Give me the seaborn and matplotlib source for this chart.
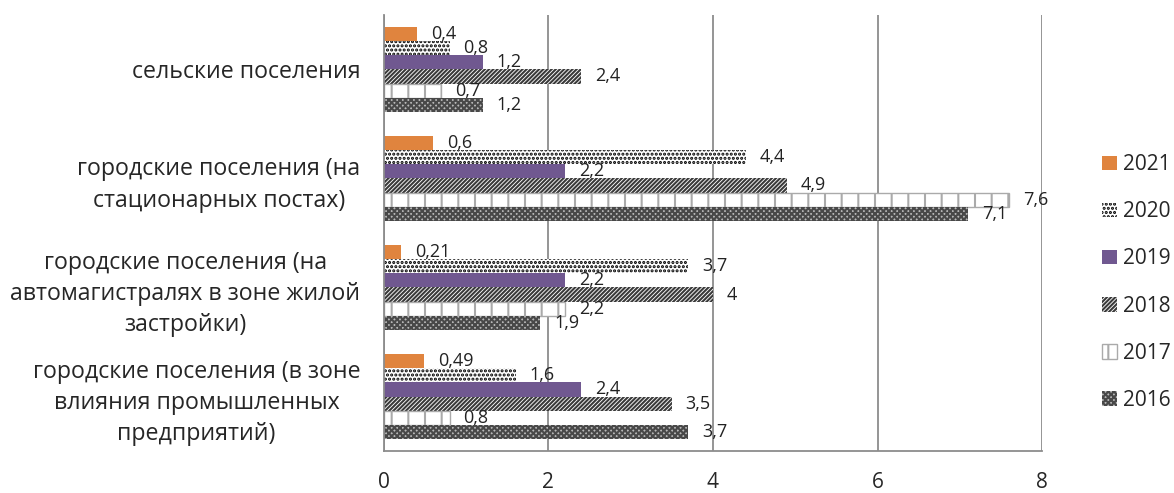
import matplotlib

matplotlib.use("Agg")
import matplotlib.pyplot as plt
import numpy as np
import pandas as pd
import seaborn as sns
from matplotlib.patches import Patch

# categories (top to bottom) and series
categories = [
    "сельские поселения",
    "городские поселения (на\nстационарных постах)",
    "городские поселения (на\nавтомагистралях в зоне жилой\nзастройки)",
    "городские поселения (в зоне\nвлияния промышленных\nпредприятий)",
]
years = ["2021", "2020", "2019", "2018", "2017", "2016"]

v2021 = [0.4, 0.6, 0.21, 0.49]
v2020 = [0.8, 4.4, 3.7, 1.6]
v2019 = [1.2, 2.2, 2.2, 2.4]
v2018 = [2.4, 4.9, 4.0, 3.5]
v2017 = [0.7, 7.6, 2.2, 0.8]
v2016 = [1.2, 7.1, 1.9, 3.7]

series = dict(zip(years, [v2021, v2020, v2019, v2018, v2017, v2016]))

rows = []
for year, vals in series.items():
    for cat, v in zip(categories, vals):
        rows.append({"cat": cat, "year": year, "value": v})
df = pd.DataFrame(rows)

# fill / hatch styles per series
styles = {
    "2021": dict(facecolor="#E0843E", edgecolor="#E0843E", hatch=None, lw=0),
    "2020": dict(facecolor="white", edgecolor="black", hatch="....", lw=0),
    "2019": dict(facecolor="#705890", edgecolor="#705890", hatch=None, lw=0),
    "2018": dict(facecolor="white", edgecolor="#3a3a3a", hatch="////////", lw=0),
    "2017": dict(facecolor="white", edgecolor="#aaaaaa", hatch="|", lw=1.0),
    "2016": dict(facecolor="#b8b8b8", edgecolor="#484848", hatch="xxxxxx", lw=0),
}

sns.set_style("white")
plt.rcParams["font.family"] = ["Open Sans", "DejaVu Sans"]
plt.rcParams["hatch.linewidth"] = 1.5

fig = plt.figure(figsize=(11.74, 4.93), dpi=100)
ax = fig.add_axes([0.327, 0.085, 0.8876 - 0.327, 0.885])

sns.barplot(
    data=df,
    x="value",
    y="cat",
    hue="year",
    hue_order=years,
    order=categories,
    orient="h",
    width=0.78,
    saturation=1,
    palette={y: styles[y]["facecolor"] for y in years},
    legend=False,
    ax=ax,
)

for year, cont in zip(years, ax.containers):
    st = styles[year]
    for bar in cont:
        bar.set_facecolor(st["facecolor"])
        bar.set_edgecolor(st["edgecolor"])
        bar.set_linewidth(st["lw"])
        if st["hatch"]:
            bar.set_hatch(st["hatch"])
    labels = [f"{v:g}".replace(".", ",") for v in cont.datavalues]
    ax.bar_label(cont, labels=labels, padding=10, fontsize=13, color="#222222")

ax.set_xlim(0, 8)
ax.set_ylim(3.5, -0.5)
ax.set_xticks([0, 2, 4, 6, 8])
ax.set_xlabel("")
ax.set_ylabel("")

ax.xaxis.grid(True, color="#8c8c8c", lw=1.3)
ax.yaxis.grid(False)
ax.set_axisbelow(True)
for s in ["top", "right"]:
    ax.spines[s].set_visible(False)
for s in ["left", "bottom"]:
    ax.spines[s].set_color("#8c8c8c")
    ax.spines[s].set_linewidth(1.3)

ax.set_yticks(range(len(categories)))
ax.set_yticklabels(categories, ma="center", fontsize=16.7, linespacing=1.4)
ax.set_yticks(np.arange(-0.5, len(categories)), minor=True)
ax.tick_params(axis="y", which="major", length=0, pad=17)
ax.tick_params(axis="y", which="minor", length=5, width=1.3, color="#8c8c8c")
ax.tick_params(axis="x", length=5, width=1.3, color="#8c8c8c", pad=10, labelsize=15)

handles = []
for year in years:
    st = styles[year]
    handles.append(
        Patch(
            facecolor=st["facecolor"],
            edgecolor=st["edgecolor"],
            hatch=st["hatch"],
            linewidth=st["lw"],
            label=year,
        )
    )
fig.legend(
    handles=handles,
    loc="center left",
    bbox_to_anchor=(1102 / 1174, 0.427),
    frameon=False,
    fontsize=15,
    handlelength=0.7,
    handleheight=0.7,
    handletextpad=0.3,
    labelspacing=1.25,
    borderaxespad=0,
    borderpad=0,
)

fig.savefig("out.png", dpi=100)
